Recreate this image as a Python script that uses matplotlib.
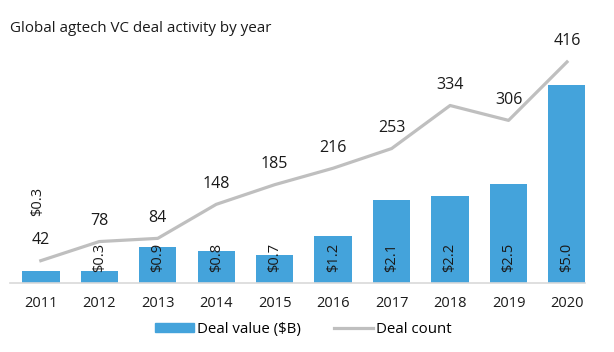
import matplotlib
matplotlib.use("Agg")
import matplotlib.pyplot as plt
from matplotlib.patches import Patch
from matplotlib.lines import Line2D

plt.rcParams['font.family'] = ['Open Sans', 'DejaVu Sans']

years = ["2011", "2012", "2013", "2014", "2015", "2016", "2017", "2018", "2019", "2020"]
deal_value = [0.3, 0.3, 0.9, 0.8, 0.7, 1.2, 2.1, 2.2, 2.5, 5.0]
deal_count = [42, 78, 84, 148, 185, 216, 253, 334, 306, 416]
value_labels = ["$0.3", "$0.3", "$0.9", "$0.8", "$0.7", "$1.2", "$2.1", "$2.2", "$2.5", "$5.0"]

bar_color = "#44A3DB"
line_color = "#BFBFBF"

fig = plt.figure(figsize=(6.14, 3.52), dpi=100)
ax = fig.add_axes([0.016, 0.196, 0.937, 0.69])
ax2 = ax.twinx()

x = list(range(len(years)))
ax.bar(x, deal_value, width=0.64, color=bar_color, zorder=2)
ax.set_ylim(0, 6.14)
ax.set_xlim(-0.53, 9.31)

ax2.plot(x, deal_count, color=line_color, lw=2.3, zorder=3)
ax2.set_ylim(0, 457)

for a in (ax, ax2):
    for s in a.spines.values():
        s.set_visible(False)
    a.set_yticks([])
ax.spines['bottom'].set_visible(True)
ax.spines['bottom'].set_color("#D9D9D9")
ax.spines['bottom'].set_linewidth(1.2)
ax.set_xticks(x)
ax.set_xticklabels(years, fontsize=10.5, color="#1a1a1a")
ax.tick_params(axis='x', length=0, pad=9)

# value labels
for i, (v, lab) in enumerate(zip(deal_value, value_labels)):
    if i == 0:
        ax.text(i - 0.05, 2.05, lab, rotation=90, ha='center', va='center', fontsize=10.5, color="#1a1a1a")
    else:
        ax.text(i, 0.28, lab, rotation=90, ha='center', va='bottom', fontsize=10.5, color="#1a1a1a")

# count labels
for i, c in enumerate(deal_count):
    ax2.annotate(str(c), (i, c), xytext=(0, 9), textcoords='offset points',
                 ha='center', va='bottom', fontsize=11.5, color="#1a1a1a")

fig.text(0.016, 0.92, "Global agtech VC deal activity by year", fontsize=10.9, color="#1a1a1a", va='center')

handles = [Patch(color=bar_color), Line2D([0], [0], color=line_color, lw=2.3)]
fig.legend(handles, ["Deal value ($B)", "Deal count"], loc='center', bbox_to_anchor=(0.494, 0.065),
           ncol=2, frameon=False, fontsize=10.8, handlelength=2.6, handleheight=0.6, columnspacing=2.2,
           handletextpad=0.2)

fig.savefig("out.png", dpi=100)
